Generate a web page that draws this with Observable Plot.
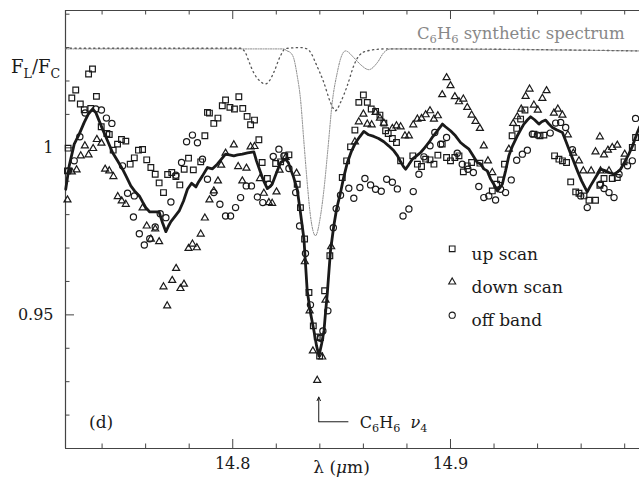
<!DOCTYPE html>
<html><head><meta charset="utf-8">
<script src="https://cdn.jsdelivr.net/npm/d3@7"></script>
<script src="https://cdn.jsdelivr.net/npm/@observablehq/plot@0.6"></script>
<style>
html,body{margin:0;padding:0;background:#fff;overflow:hidden;}
#chart svg{display:block;}
</style></head><body><div id="chart"></div>
<script>
// ---------- axes ----------
const xDomain = [14.7232, 14.9868];
const yDomain = [0.91, 1.0411];
const xMajorTicks = [14.8, 14.9];
const xMinorTicks = [14.74, 14.76, 14.78, 14.82, 14.84, 14.86, 14.88, 14.92, 14.94, 14.96, 14.98];
const yMajorTicks = [0.95, 1];
const yMinorTicks = [0.92, 0.93, 0.94, 0.96, 0.97, 0.98, 0.99, 1.01, 1.02, 1.03, 1.04];

// ---------- data: [lambda (um), F_L/F_C] ----------
const upScan = [[14.7244,0.9999],[14.7241,0.9931],[14.7261,1.0149],[14.7279,1.0173],[14.7300,1.0131],[14.7318,1.0114],[14.7338,1.0221],[14.7348,1.0118],[14.7356,1.0236],[14.7374,1.0154],[14.7396,1.0063],[14.7422,1.0043],[14.7433,1.0040],[14.7451,0.9993],[14.7471,1.0011],[14.7489,1.0025],[14.7509,1.0020],[14.7529,0.9951],[14.7548,0.9970],[14.7567,0.9993],[14.7586,0.9995],[14.7605,0.9964],[14.7624,0.9941],[14.7644,0.9921],[14.7662,0.9895],[14.7682,0.9866],[14.7701,0.9920],[14.7720,0.9926],[14.7739,0.9914],[14.7757,0.9889],[14.7777,0.9936],[14.7797,0.9969],[14.7819,0.9934],[14.7853,0.9958],[14.7872,1.0036],[14.7884,1.0106],[14.7893,1.0104],[14.7913,1.0073],[14.7932,1.0089],[14.7952,1.0126],[14.7967,1.0143],[14.7987,1.0121],[14.8008,1.0116],[14.8028,1.0153],[14.8046,1.0118],[14.8066,1.0094],[14.8082,1.0069],[14.8100,1.0083],[14.8120,1.0024],[14.8135,0.9956],[14.8159,0.9908],[14.8197,0.9953],[14.8220,0.9958],[14.8239,0.9976],[14.8258,0.9979],[14.8296,0.9891],[14.8311,0.9821],[14.8330,0.9727],[14.8350,0.9567],[14.8370,0.9467],[14.8388,0.9434],[14.8399,0.9377],[14.8403,0.9432],[14.8422,0.9572],[14.8446,0.9677],[14.8503,0.9911],[14.8523,0.9961],[14.8541,1.0003],[14.8561,1.0053],[14.8579,1.0136],[14.8600,1.0158],[14.8618,1.0136],[14.8636,1.0116],[14.8656,1.0109],[14.8676,1.0098],[14.8694,1.0074],[14.8702,1.0051],[14.8714,1.0043],[14.8733,1.0028],[14.8752,1.0016],[14.8771,0.9961],[14.8827,0.9976],[14.8848,0.9951],[14.8867,0.9944],[14.8886,0.9966],[14.8906,0.9964],[14.8924,0.9951],[14.8942,0.9978],[14.8962,1.0011],[14.8982,0.9971],[14.9000,0.9961],[14.9020,0.9971],[14.9039,0.9976],[14.9059,0.9928],[14.9077,0.9946],[14.9097,0.9956],[14.9135,0.9954],[14.9192,0.9871],[14.9212,0.9891],[14.9230,0.9904],[14.9248,0.9951],[14.9283,1.0036],[14.9304,1.0058],[14.9322,1.0086],[14.9342,1.0113],[14.9383,1.0041],[14.9411,1.0036],[14.9429,1.0038],[14.9478,0.9976],[14.9498,0.9966],[14.9514,0.9961],[14.9533,0.9956],[14.9552,0.9898],[14.9575,0.9868],[14.9590,0.9864],[14.9613,0.9856],[14.9636,0.9843],[14.9666,0.9843],[14.9686,0.9888],[14.9705,0.9908],[14.9743,0.9908],[14.9766,0.9911],[14.9797,0.9958],[14.9835,1.0001],[14.9850,1.0031]];

const downScan = [[14.7241,0.9844],[14.7261,0.9928],[14.7283,0.9934],[14.7302,0.9976],[14.7321,1.0006],[14.7338,0.9979],[14.7359,0.9998],[14.7376,1.0025],[14.7397,1.0014],[14.7414,0.9936],[14.7433,0.9931],[14.7452,0.9914],[14.7472,0.9854],[14.7490,0.9841],[14.7509,0.9831],[14.7586,0.9820],[14.7605,0.9766],[14.7624,0.9727],[14.7644,0.9757],[14.7662,0.9719],[14.7682,0.9584],[14.7699,0.9527],[14.7722,0.9603],[14.7740,0.9639],[14.7760,0.9579],[14.7776,0.9592],[14.7797,0.9699],[14.7815,0.9712],[14.7835,0.9701],[14.7853,0.9742],[14.7872,0.9790],[14.7893,0.9844],[14.7913,0.9871],[14.7932,0.9901],[14.7947,0.9948],[14.7967,0.9984],[14.8005,1.0009],[14.8025,0.9944],[14.8044,0.9901],[14.8063,0.9939],[14.8082,1.0003],[14.8100,1.0004],[14.8125,0.9908],[14.8143,0.9864],[14.8166,0.9836],[14.8181,0.9834],[14.8201,0.9868],[14.8215,0.9933],[14.8243,0.9971],[14.8293,0.9924],[14.8331,0.9659],[14.8353,0.9512],[14.8368,0.9392],[14.8388,0.9304],[14.8411,0.9374],[14.8426,0.9544],[14.8452,0.9704],[14.8561,1.0018],[14.8579,1.0078],[14.8600,1.0101],[14.8618,1.0071],[14.8638,1.0069],[14.8656,1.0106],[14.8676,1.0089],[14.8694,1.0074],[14.8733,1.0058],[14.8752,1.0066],[14.8771,1.0063],[14.8791,1.0036],[14.8809,1.0036],[14.8829,1.0069],[14.8848,1.0086],[14.8867,1.0088],[14.8886,1.0099],[14.8906,1.0111],[14.8924,1.0086],[14.8942,1.0096],[14.8962,1.0159],[14.8982,1.0210],[14.9000,1.0186],[14.9020,1.0153],[14.9039,1.0138],[14.9059,1.0146],[14.9077,1.0121],[14.9097,1.0098],[14.9115,1.0079],[14.9135,1.0058],[14.9153,1.0006],[14.9172,0.9961],[14.9192,0.9926],[14.9268,0.9996],[14.9288,1.0073],[14.9307,1.0093],[14.9325,1.0116],[14.9345,1.0154],[14.9363,1.0176],[14.9383,1.0128],[14.9401,1.0113],[14.9422,1.0148],[14.9441,1.0171],[14.9475,1.0104],[14.9493,1.0116],[14.9514,1.0098],[14.9539,1.0039],[14.9564,0.9984],[14.9590,0.9961],[14.9610,0.9931],[14.9646,0.9931],[14.9666,0.9988],[14.9686,1.0033],[14.9689,0.9931],[14.9705,0.9979],[14.9723,0.9993],[14.9728,0.9931],[14.9743,1.0001],[14.9766,1.0008],[14.9800,0.9981]];

const offBand = [[14.7246,0.9931],[14.7272,0.9961],[14.7298,1.0033],[14.7322,1.0104],[14.7371,1.0116],[14.7397,1.0113],[14.7420,1.0089],[14.7445,1.0073],[14.7494,0.9946],[14.7517,0.9864],[14.7548,0.9856],[14.7544,0.9793],[14.7571,0.9743],[14.7594,0.9709],[14.7619,0.9728],[14.7644,0.9763],[14.7667,0.9803],[14.7693,0.9791],[14.7716,0.9838],[14.7739,0.9918],[14.7765,0.9956],[14.7788,1.0018],[14.7815,1.0038],[14.7838,1.0015],[14.7861,0.9966],[14.7884,0.9906],[14.7913,0.9866],[14.7941,0.9831],[14.7967,0.9796],[14.7990,0.9796],[14.8013,0.9821],[14.8036,0.9851],[14.8062,0.9886],[14.8086,0.9886],[14.8113,0.9853],[14.8138,0.9836],[14.8166,0.9891],[14.8186,0.9974],[14.8212,0.9996],[14.8235,0.9976],[14.8258,0.9938],[14.8289,0.9866],[14.8307,0.9766],[14.8334,0.9684],[14.8357,0.9530],[14.8403,0.9430],[14.8414,0.9452],[14.8437,0.9512],[14.8462,0.9761],[14.8475,0.9818],[14.8495,0.9858],[14.8533,0.9879],[14.8556,0.9849],[14.8584,0.9881],[14.8607,0.9908],[14.8633,0.9889],[14.8656,0.9876],[14.8682,0.9870],[14.8707,0.9906],[14.8733,0.9897],[14.8756,0.9877],[14.8782,0.9796],[14.8809,0.9817],[14.8829,0.9869],[14.8855,0.9921],[14.8878,0.9973],[14.8906,1.0006],[14.8928,1.0046],[14.8955,1.0011],[14.8982,1.0031],[14.9031,0.9984],[14.9054,0.9951],[14.9080,0.9936],[14.9105,0.9926],[14.9130,0.9884],[14.9153,0.9851],[14.9176,0.9856],[14.9207,0.9844],[14.9230,0.9876],[14.9253,0.9866],[14.9279,0.9904],[14.9304,0.9963],[14.9330,0.9981],[14.9353,0.9993],[14.9376,1.0041],[14.9399,1.0038],[14.9458,1.0044],[14.9483,1.0074],[14.9506,1.0076],[14.9529,1.0061],[14.9560,0.9994],[14.9598,0.9856],[14.9628,0.9821],[14.9689,0.9891],[14.9705,0.9878],[14.9728,0.9866],[14.9751,0.9851],[14.9774,0.9921],[14.9813,0.9946],[14.9835,0.9961],[14.9850,1.0088]];

const meanSpectrum = [[14.7233,0.9876],[14.7249,0.9946],[14.7272,1.0011],[14.7295,1.0041],[14.7318,1.0076],[14.7338,1.0102],[14.7356,1.0116],[14.7371,1.0106],[14.7402,1.0056],[14.7425,1.0021],[14.7448,0.9986],[14.7471,0.9961],[14.7494,0.9936],[14.7512,0.9913],[14.7532,0.9886],[14.7549,0.9871],[14.7571,0.9856],[14.7586,0.9838],[14.7601,0.9821],[14.7619,0.9808],[14.7641,0.9808],[14.7662,0.9808],[14.7678,0.9775],[14.7693,0.9749],[14.7705,0.9766],[14.7716,0.9779],[14.7733,0.9793],[14.7754,0.9811],[14.7774,0.9841],[14.7792,0.9876],[14.7811,0.9894],[14.7831,0.9883],[14.7843,0.9898],[14.7861,0.9916],[14.7884,0.9941],[14.7907,0.9937],[14.7929,0.9951],[14.7949,0.9967],[14.7967,0.9981],[14.7985,0.9979],[14.8005,0.9976],[14.8022,0.9979],[14.8044,0.9981],[14.8068,0.9985],[14.8097,0.9988],[14.8109,0.9961],[14.8128,0.9926],[14.8142,0.9901],[14.8159,0.9878],[14.8169,0.9883],[14.8181,0.9891],[14.8201,0.9925],[14.8220,0.9956],[14.8243,0.9966],[14.8256,0.9955],[14.8266,0.9936],[14.8279,0.9913],[14.8296,0.9876],[14.8311,0.9806],[14.8327,0.9727],[14.8342,0.9572],[14.8357,0.9506],[14.8373,0.9452],[14.8385,0.9407],[14.8396,0.9377],[14.8408,0.9413],[14.8419,0.9452],[14.8426,0.9506],[14.8434,0.9562],[14.8442,0.9632],[14.8449,0.9692],[14.8464,0.9766],[14.8477,0.9817],[14.8495,0.9866],[14.8509,0.9910],[14.8526,0.9955],[14.8546,0.9991],[14.8564,1.0015],[14.8583,1.0033],[14.8602,1.0049],[14.8624,1.0039],[14.8648,1.0034],[14.8670,1.0028],[14.8694,1.0018],[14.8716,1.0006],[14.8740,0.9991],[14.8757,0.9976],[14.8771,0.9958],[14.8785,0.9943],[14.8794,0.9936],[14.8808,0.9949],[14.8825,0.9966],[14.8844,0.9976],[14.8863,0.9986],[14.8881,1.0000],[14.8901,1.0016],[14.8918,1.0033],[14.8940,1.0051],[14.8963,1.0071],[14.8977,1.0063],[14.9000,1.0051],[14.9023,1.0036],[14.9046,1.0016],[14.9065,1.0006],[14.9085,0.9996],[14.9101,0.9979],[14.9123,0.9956],[14.9138,0.9952],[14.9153,0.9937],[14.9169,0.9931],[14.9184,0.9907],[14.9199,0.9891],[14.9215,0.9871],[14.9226,0.9880],[14.9238,0.9891],[14.9253,0.9931],[14.9268,0.9976],[14.9285,1.0006],[14.9307,1.0036],[14.9322,1.0054],[14.9337,1.0071],[14.9354,1.0084],[14.9368,1.0093],[14.9386,1.0084],[14.9406,1.0071],[14.9419,1.0078],[14.9437,1.0083],[14.9451,1.0072],[14.9468,1.0061],[14.9487,1.0054],[14.9514,1.0046],[14.9529,1.0021],[14.9544,0.9996],[14.9561,0.9967],[14.9583,0.9931],[14.9602,0.9901],[14.9616,0.9883],[14.9628,0.9868],[14.9643,0.9886],[14.9666,0.9911],[14.9689,0.9936],[14.9712,0.9931],[14.9728,0.9926],[14.9751,0.9921],[14.9768,0.9928],[14.9781,0.9936],[14.9800,0.9958],[14.9819,0.9981],[14.9836,1.0006],[14.9858,1.0046],[14.9869,1.0063]];

// synthetic C6H6 spectrum, two traces
const synthDotted = [[14.7232,1.0298],[14.7852,1.0298],[14.8035,1.0298],[14.8058,1.0285],[14.8077,1.0254],[14.8096,1.0225],[14.8123,1.0201],[14.8150,1.0191],[14.8169,1.0201],[14.8188,1.0225],[14.8219,1.0275],[14.8242,1.0297],[14.8311,1.0300],[14.8342,1.0296],[14.8362,1.0281],[14.8380,1.0255],[14.8418,1.0196],[14.8449,1.0136],[14.8472,1.0111],[14.8495,1.0136],[14.8526,1.0186],[14.8556,1.0246],[14.8579,1.0275],[14.8617,1.0290],[14.8700,1.0296],[14.8862,1.0296],[14.9868,1.0290]];
const synthFine = [[14.7232,1.0296],[14.8233,1.0296],[14.8250,1.0290],[14.8265,1.0285],[14.8281,1.0266],[14.8296,1.0216],[14.8311,1.0147],[14.8327,1.0016],[14.8342,0.9896],[14.8357,0.9796],[14.8380,0.9737],[14.8403,0.9796],[14.8419,0.9876],[14.8437,0.9996],[14.8457,1.0136],[14.8480,1.0225],[14.8495,1.0266],[14.8518,1.0290],[14.8556,1.0270],[14.8587,1.0249],[14.8625,1.0234],[14.8664,1.0255],[14.8694,1.0285],[14.8725,1.0296],[14.9869,1.0290]];

// annotation: the nu4 band centre arrow, and label anchors
const bandCentre = 14.8395;
const bandArrow = {yFrom: 0.9180, yTo: 0.9254, xElbow: 14.8531};
const synthLabelAt = {x: 14.8848, y: 1.0323};

const legendItems = [
  {label: "up scan", symbol: "square", r: 3.2},
  {label: "down scan", symbol: "triangle", r: 2.6},
  {label: "off band", symbol: "circle", r: 3.1}
];

// ---------- layout ----------
const W = 639, H = 480, mL = 65, mR = 0, mT = 10, mB = 32;
const innerW = W - mL - mR, innerH = H - mT - mB;
const serif = "DejaVu Serif";
const ink = "#1a1a1a", frameInk = "#444";
const px = d => d[0], py = d => d[1];

const legendMarks = legendItems.flatMap((d, i) => [
  Plot.dot([d], {frameAnchor: "top-left", dx: 386.7, dy: 238.3 + i * 33.2, symbol: d.symbol, r: d.r, stroke: ink, fill: "none", strokeWidth: 1.1}),
  Plot.text([d], {frameAnchor: "top-left", dx: 406, dy: 237.5 + i * 33.2, text: "label", textAnchor: "start", fontSize: 17, fill: ink})
]);

const plot = Plot.plot({
  width: W, height: H,
  marginLeft: mL, marginRight: mR, marginTop: mT, marginBottom: mB,
  style: {fontFamily: serif, fontSize: "16px", background: "#fff", color: ink, overflow: "hidden"},
  x: {domain: xDomain, axis: null},
  y: {domain: yDomain, axis: null},
  marks: [
    // frame (left, top, bottom)
    Plot.ruleX([xDomain[0]], {stroke: frameInk, strokeWidth: 1.2}),
    Plot.ruleY([yDomain[0], yDomain[1]], {stroke: frameInk, strokeWidth: 1.2}),
    // inward ticks
    Plot.ruleX(xMajorTicks, {x: d => d, insetTop: innerH - 9, stroke: frameInk}),
    Plot.ruleX(xMinorTicks, {x: d => d, insetTop: innerH - 4.5, stroke: frameInk}),
    Plot.ruleX(xMajorTicks, {x: d => d, insetBottom: innerH - 9, stroke: frameInk}),
    Plot.ruleX(xMinorTicks, {x: d => d, insetBottom: innerH - 4.5, stroke: frameInk}),
    Plot.ruleY(yMajorTicks, {y: d => d, insetRight: innerW - 9, stroke: frameInk}),
    Plot.ruleY(yMinorTicks, {y: d => d, insetRight: innerW - 4.5, stroke: frameInk}),
    // tick labels
    Plot.text(xMajorTicks, {x: d => d, frameAnchor: "bottom", dy: 20, text: d => d.toFixed(1), fontSize: 16, fill: ink}),
    Plot.text(yMajorTicks, {y: d => d, frameAnchor: "left", dx: -12, textAnchor: "end", text: d => String(d), fontSize: 16, fill: ink}),
    // synthetic spectrum
    Plot.line(synthDotted, {x: px, y: py, stroke: "#555", strokeWidth: 1.3, strokeDasharray: "1.3,3.4", curve: "monotone-x"}),
    Plot.line(synthFine, {x: px, y: py, stroke: "#777", strokeWidth: 0.9, strokeDasharray: "1.2,1.3", curve: "monotone-x"}),
    // observations
    Plot.dot(upScan, {x: px, y: py, symbol: "square", r: 3.2, stroke: ink, fill: "none", strokeWidth: 1.2}),
    Plot.dot(downScan, {x: px, y: py, symbol: "triangle", r: 2.6, stroke: ink, fill: "none", strokeWidth: 1.2}),
    Plot.dot(offBand, {x: px, y: py, symbol: "circle", r: 3.1, stroke: ink, fill: "none", strokeWidth: 1.2}),
    Plot.line(meanSpectrum, {x: px, y: py, stroke: ink, strokeWidth: 2.8, strokeLinejoin: "round"}),
    // band arrow
    Plot.arrow([bandCentre], {x1: d => d, x2: d => d, y1: () => bandArrow.yFrom, y2: () => bandArrow.yTo, stroke: ink, strokeWidth: 1, headLength: 6, headAngle: 50}),
    Plot.link([bandCentre], {x1: d => d, x2: () => bandArrow.xElbow, y1: () => bandArrow.yFrom, y2: () => bandArrow.yFrom, stroke: ink, strokeWidth: 1}),
    ...legendMarks
  ]
});

document.getElementById("chart").appendChild(plot);

// ---------- rich text (subscripts / italics) ----------
const sx = plot.scale("x"), sy = plot.scale("y");
const svg = d3.select(plot);
const g = svg.append("g").attr("font-family", serif).attr("fill", ink).attr("text-anchor", "start");

function rich(x, y, size, parts, attrs = {}) {
  const t = g.append("text").attr("x", x).attr("y", y).attr("font-size", size).attr("text-anchor", "start");
  for (const [k, v] of Object.entries(attrs)) t.attr(k, v);
  let shift = 0;
  for (const p of parts) {
    const s = t.append("tspan").text(p.t);
    const want = p.sub ? Math.round(size * 0.25) : 0;
    if (want !== shift) { s.attr("dy", want - shift); shift = want; }
    if (p.sub) s.attr("font-size", size * 0.7);
    if (p.it) s.attr("font-style", "italic");
  }
  return t;
}

// y-axis title F_L / F_C
rich(11, 73, 18, [{t: "F"}, {t: "L", sub: true}, {t: "/F"}, {t: "C", sub: true}]);
// x-axis title
rich(sx.apply(14.8) + 81, 473, 17, [{t: "λ ("}, {t: "μ", it: true}, {t: "m)"}]);
// panel label
rich(sx.apply(xDomain[0]) + 24, 428, 17, [{t: "(d)"}]);
// band label
rich(sx.apply(bandArrow.xElbow) + 12, sy.apply(bandArrow.yFrom) + 7, 16,
  [{t: "C"}, {t: "6", sub: true}, {t: "H"}, {t: "6", sub: true}, {t: "  "}, {t: "ν", it: true}, {t: "4", sub: true}]);
// synthetic spectrum label
rich(sx.apply(synthLabelAt.x), sy.apply(synthLabelAt.y), 16.5,
  [{t: "C"}, {t: "6", sub: true}, {t: "H"}, {t: "6", sub: true}, {t: " synthetic spectrum"}], {fill: "#888"});
</script>
</body></html>
